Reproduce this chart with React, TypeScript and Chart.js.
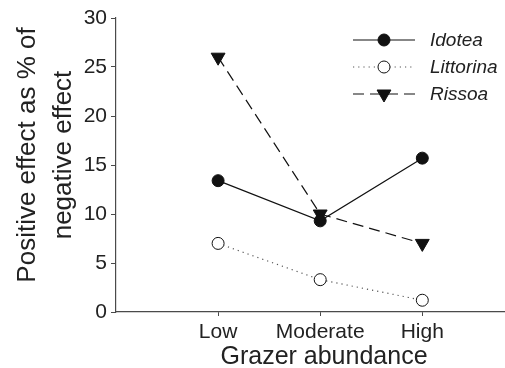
import React, { useEffect, useRef } from 'react';
import { Chart, registerables } from 'chart.js';

Chart.register(...registerables);

// ---- data ----
const categories = ['Low', 'Moderate', 'High'];
const xPositions = [1, 2, 3];
const yTicks = [0, 5, 10, 15, 20, 25, 30];
const seriesNames = ['Idotea', 'Littorina', 'Rissoa'];
const idotea = [13.4, 9.3, 15.7];
const littorina = [7.0, 3.3, 1.2];
const rissoa = [26.0, 10.0, 7.0];
const xTitle = 'Grazer abundance';
const yTitleLines = ['Positive effect as % of', 'negative effect'];

const FONT = "'Liberation Sans', Arial, Helvetica, sans-serif";
const TEXT = '#222';
const AXIS = '#4a4a4a';

const toPoints = (vals: number[]) => vals.map((v, i) => ({ x: xPositions[i], y: v }));

const titlesPlugin = {
  id: 'customTitles',
  afterDraw(chart: any) {
    const ctx = chart.ctx;
    const area = chart.chartArea;
    ctx.save();
    ctx.fillStyle = TEXT;
    // x title
    ctx.font = `25px ${FONT}`;
    ctx.textAlign = 'center';
    ctx.textBaseline = 'alphabetic';
    ctx.fillText(xTitle, area.left + 208, area.bottom + 52);
    // y title
    ctx.font = `26px ${FONT}`;
    ctx.translate(0, area.top + 137);
    ctx.rotate(-Math.PI / 2);
    ctx.textAlign = 'center';
    ctx.textBaseline = 'alphabetic';
    const baselines = [35, 71];
    yTitleLines.forEach((line, i) => {
      ctx.fillText(line, 0, baselines[i]);
    });
    ctx.restore();
  },
};

const legendPlugin = {
  id: 'customLegend',
  afterDraw(chart: any) {
    const ctx = chart.ctx;
    const area = chart.chartArea;
    const x0 = area.left + 237;
    const x1 = area.left + 299;
    const xm = (x0 + x1) / 2;
    const tx = area.left + 314;
    const rowY = [area.top + 22, area.top + 49, area.top + 76];
    chart.data.datasets.forEach((ds: any, i: number) => {
      const y = rowY[i];
      ctx.save();
      ctx.strokeStyle = ds.borderColor;
      ctx.lineWidth = ds.borderWidth;
      ctx.setLineDash(ds.borderDash || []);
      ctx.beginPath();
      ctx.moveTo(x0, y);
      ctx.lineTo(x1, y);
      ctx.stroke();
      ctx.setLineDash([]);
      ctx.fillStyle = ds.pointBackgroundColor;
      ctx.strokeStyle = ds.pointBorderColor;
      ctx.lineWidth = 1;
      ctx.beginPath();
      const r = ds.pointRadius;
      if (ds.pointStyle === 'triangle') {
        let rad = Math.PI;
        ctx.moveTo(xm + Math.sin(rad) * r, y - Math.cos(rad) * r);
        rad += (2 * Math.PI) / 3;
        ctx.lineTo(xm + Math.sin(rad) * r, y - Math.cos(rad) * r);
        rad += (2 * Math.PI) / 3;
        ctx.lineTo(xm + Math.sin(rad) * r, y - Math.cos(rad) * r);
        ctx.closePath();
      } else {
        ctx.arc(xm, y, r, 0, Math.PI * 2);
      }
      ctx.fill();
      ctx.stroke();
      ctx.fillStyle = TEXT;
      ctx.font = `italic 19px ${FONT}`;
      ctx.textBaseline = 'middle';
      ctx.textAlign = 'left';
      ctx.fillText(ds.label, tx, y + 1);
      ctx.restore();
    });
  },
};

export default function App() {
  const ref = useRef<HTMLCanvasElement | null>(null);

  useEffect(() => {
    if (!ref.current) return;
    const chart = new Chart(ref.current, {
      type: 'line',
      data: {
        datasets: [
          {
            label: seriesNames[0],
            data: toPoints(idotea),
            borderColor: '#111',
            borderWidth: 1.2,
            pointStyle: 'circle',
            pointRadius: 6,
            pointBackgroundColor: '#111',
            pointBorderColor: '#111',
            pointBorderWidth: 1,
          },
          {
            label: seriesNames[1],
            data: toPoints(littorina),
            borderColor: '#555',
            borderWidth: 1.2,
            borderDash: [1.2, 4],
            pointStyle: 'circle',
            pointRadius: 6,
            pointBackgroundColor: '#fff',
            pointBorderColor: '#111',
            pointBorderWidth: 1,
          },
          {
            label: seriesNames[2],
            data: toPoints(rissoa),
            borderColor: '#111',
            borderWidth: 1.2,
            borderDash: [11, 6],
            pointStyle: 'triangle',
            rotation: 180,
            pointRadius: 8,
            pointBackgroundColor: '#111',
            pointBorderColor: '#111',
            pointBorderWidth: 1,
          },
        ] as any,
      },
      options: {
        animation: false,
        responsive: false,
        devicePixelRatio: 1,
        layout: { autoPadding: false, padding: { top: 18, right: 0, left: 0, bottom: 0 } },
        plugins: { legend: { display: false }, tooltip: { enabled: false } },
        scales: {
          x: {
            type: 'linear',
            min: 0,
            max: 3.81,
            afterBuildTicks: (scale: any) => {
              scale.ticks = xPositions.map((v) => ({ value: v }));
            },
            afterFit: (scale: any) => {
              scale.height = 56;
              scale.paddingRight = 0;
              scale.paddingLeft = 0;
            },
            ticks: {
              autoSkip: false,
              maxRotation: 0,
              padding: 4,
              color: TEXT,
              font: { family: FONT, size: 21 },
              callback: (v: any) => categories[xPositions.indexOf(Number(v))] ?? '',
            },
            grid: { display: true, drawOnChartArea: false, drawTicks: true, tickLength: 4, color: AXIS },
            border: { display: true, color: AXIS, width: 1.2 },
            title: { display: false },
          },
          y: {
            type: 'linear',
            min: 0,
            max: 30,
            afterBuildTicks: (scale: any) => {
              scale.ticks = yTicks.map((v) => ({ value: v }));
            },
            afterFit: (scale: any) => {
              scale.width = 116;
            },
            ticks: {
              padding: 4,
              color: TEXT,
              font: { family: FONT, size: 21 },
            },
            grid: { display: true, drawOnChartArea: false, drawTicks: true, tickLength: 5, color: AXIS },
            border: { display: true, color: AXIS, width: 1.2 },
            title: { display: false },
          },
        },
      },
      plugins: [titlesPlugin, legendPlugin],
    } as any);
    return () => chart.destroy();
  }, []);

  return (
    <div style={{ position: 'absolute', left: 0, top: 0, width: 505, height: 368, background: '#fff' }}>
      <canvas ref={ref} width={505} height={368} />
    </div>
  );
}
